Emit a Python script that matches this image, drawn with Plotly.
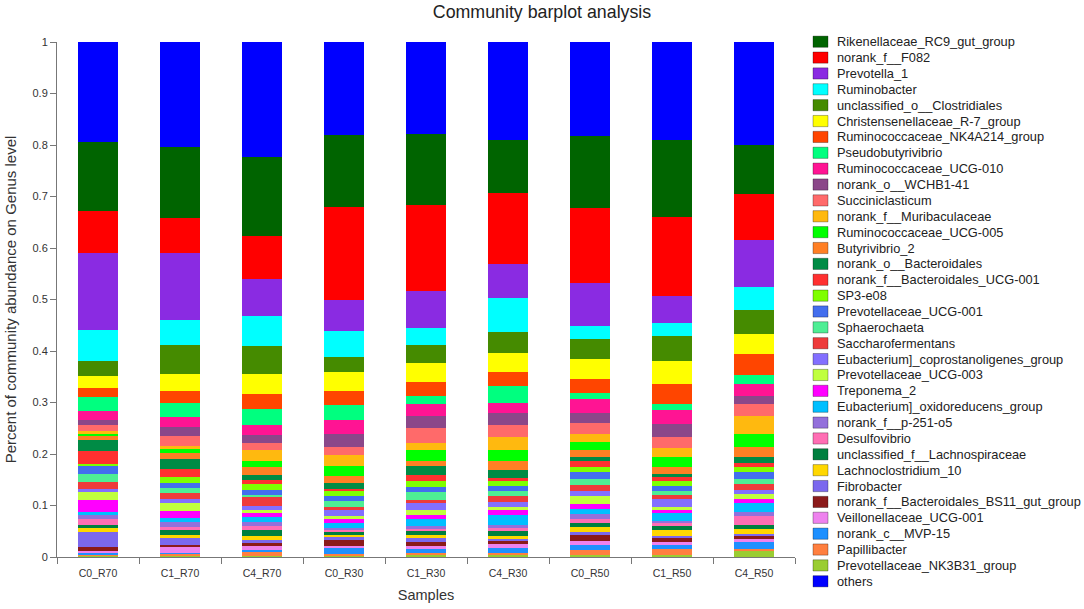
import plotly.graph_objects as go

# Samples (x axis)
samples = ["C0_R70", "C1_R70", "C4_R70", "C0_R30", "C1_R30", "C4_R30",
           "C0_R50", "C1_R50", "C4_R50"]

# Relative abundance per genus, one value per sample (same order as samples)
others = [0.194, 0.203, 0.224, 0.181, 0.179, 0.190, 0.183, 0.190, 0.200]
rikenellaceae_rc9 = [0.135, 0.139, 0.153, 0.140, 0.138, 0.103, 0.140, 0.150, 0.095]
norank_f082 = [0.081, 0.067, 0.083, 0.180, 0.167, 0.139, 0.144, 0.153, 0.090]
prevotella_1 = [0.150, 0.131, 0.072, 0.060, 0.072, 0.066, 0.085, 0.052, 0.091]
ruminobacter = [0.060, 0.049, 0.058, 0.051, 0.033, 0.066, 0.024, 0.026, 0.045]
unclass_clostridiales = [0.029, 0.056, 0.055, 0.029, 0.035, 0.039, 0.040, 0.049, 0.046]
christensenellaceae = [0.023, 0.033, 0.039, 0.037, 0.037, 0.038, 0.038, 0.045, 0.039]
rumino_nk4a214 = [0.018, 0.022, 0.029, 0.027, 0.026, 0.026, 0.028, 0.038, 0.041]
pseudobutyrivibrio = [0.026, 0.029, 0.031, 0.029, 0.016, 0.033, 0.012, 0.012, 0.018]
rumino_ucg010 = [0.018, 0.019, 0.019, 0.028, 0.024, 0.021, 0.026, 0.027, 0.022]
norank_wchb1 = [0.009, 0.018, 0.016, 0.024, 0.023, 0.023, 0.019, 0.025, 0.016]
succiniclasticum = [0.012, 0.019, 0.014, 0.016, 0.028, 0.023, 0.022, 0.022, 0.024]
norank_muribaculaceae = [0.006, 0.005, 0.020, 0.021, 0.015, 0.026, 0.015, 0.017, 0.034]
rumino_ucg005 = [0.004, 0.009, 0.013, 0.020, 0.020, 0.021, 0.017, 0.019, 0.026]
butyrivibrio_2 = [0.008, 0.011, 0.014, 0.013, 0.011, 0.017, 0.012, 0.014, 0.019]
norank_o_bacteroidales = [0.022, 0.019, 0.011, 0.011, 0.016, 0.016, 0.008, 0.005, 0.012]
norank_bact_ucg001 = [0.025, 0.015, 0.007, 0.005, 0.013, 0.006, 0.012, 0.008, 0.007]
sp3_e08 = [0.004, 0.012, 0.011, 0.010, 0.012, 0.009, 0.010, 0.011, 0.010]
prevotellaceae_ucg001 = [0.015, 0.010, 0.010, 0.009, 0.009, 0.009, 0.014, 0.008, 0.014]
sphaerochaeta = [0.016, 0.010, 0.004, 0.011, 0.015, 0.011, 0.012, 0.008, 0.010]
saccharofermentans = [0.013, 0.011, 0.017, 0.007, 0.007, 0.012, 0.010, 0.008, 0.010]
eub_coprostanoligenes = [0.005, 0.009, 0.008, 0.011, 0.012, 0.009, 0.011, 0.015, 0.009]
prevotellaceae_ucg003 = [0.017, 0.014, 0.006, 0.006, 0.010, 0.005, 0.016, 0.007, 0.009]
treponema_2 = [0.023, 0.015, 0.009, 0.007, 0.008, 0.010, 0.008, 0.005, 0.009]
eub_oxidoreducens = [0.005, 0.007, 0.009, 0.011, 0.013, 0.020, 0.011, 0.016, 0.017]
norank_p251 = [0.009, 0.010, 0.008, 0.004, 0.006, 0.005, 0.009, 0.004, 0.008]
desulfovibrio = [0.010, 0.006, 0.008, 0.004, 0.004, 0.006, 0.007, 0.006, 0.017]
unclass_lachnospiraceae = [0.007, 0.009, 0.012, 0.006, 0.009, 0.011, 0.009, 0.008, 0.007]
lachnoclostridium_10 = [0.007, 0.006, 0.007, 0.004, 0.006, 0.005, 0.009, 0.012, 0.010]
fibrobacter = [0.029, 0.014, 0.006, 0.005, 0.006, 0.002, 0.006, 0.002, 0.003]
norank_bs11 = [0.009, 0.004, 0.005, 0.011, 0.008, 0.008, 0.012, 0.009, 0.007]
veillonellaceae = [0.004, 0.011, 0.009, 0.005, 0.007, 0.007, 0.007, 0.005, 0.006]
norank_mvp15 = [0.002, 0.002, 0.002, 0.012, 0.007, 0.011, 0.011, 0.009, 0.013]
papillibacter = [0.003, 0.004, 0.009, 0.004, 0.005, 0.004, 0.009, 0.011, 0.005]
prevotellaceae_nk3b31 = [0.002, 0.002, 0.002, 0.001, 0.003, 0.003, 0.004, 0.004, 0.011]

# legend order (top to bottom): name, values, colour
genera = [
    ("Rikenellaceae_RC9_gut_group", rikenellaceae_rc9, "#006400"),
    ("norank_f__F082", norank_f082, "#FF0000"),
    ("Prevotella_1", prevotella_1, "#8A2BE2"),
    ("Ruminobacter", ruminobacter, "#00FFFF"),
    ("unclassified_o__Clostridiales", unclass_clostridiales, "#458B00"),
    ("Christensenellaceae_R-7_group", christensenellaceae, "#FFFF00"),
    ("Ruminococcaceae_NK4A214_group", rumino_nk4a214, "#FF4500"),
    ("Pseudobutyrivibrio", pseudobutyrivibrio, "#00FF7F"),
    ("Ruminococcaceae_UCG-010", rumino_ucg010, "#FF1493"),
    ("norank_o__WCHB1-41", norank_wchb1, "#8B4789"),
    ("Succiniclasticum", succiniclasticum, "#FF6A6A"),
    ("norank_f__Muribaculaceae", norank_muribaculaceae, "#FFB90F"),
    ("Ruminococcaceae_UCG-005", rumino_ucg005, "#00FF00"),
    ("Butyrivibrio_2", butyrivibrio_2, "#FF7F24"),
    ("norank_o__Bacteroidales", norank_o_bacteroidales, "#008B45"),
    ("norank_f__Bacteroidales_UCG-001", norank_bact_ucg001, "#FF3030"),
    ("SP3-e08", sp3_e08, "#7FFF00"),
    ("Prevotellaceae_UCG-001", prevotellaceae_ucg001, "#436EEE"),
    ("Sphaerochaeta", sphaerochaeta, "#4EEE94"),
    ("Saccharofermentans", saccharofermentans, "#EE3B3B"),
    ("Eubacterium]_coprostanoligenes_group", eub_coprostanoligenes, "#836FFF"),
    ("Prevotellaceae_UCG-003", prevotellaceae_ucg003, "#C0FF3E"),
    ("Treponema_2", treponema_2, "#FF00FF"),
    ("Eubacterium]_oxidoreducens_group", eub_oxidoreducens, "#00BFFF"),
    ("norank_f__p-251-o5", norank_p251, "#9370DB"),
    ("Desulfovibrio", desulfovibrio, "#FF6EB4"),
    ("unclassified_f__Lachnospiraceae", unclass_lachnospiraceae, "#007F3F"),
    ("Lachnoclostridium_10", lachnoclostridium_10, "#FFD700"),
    ("Fibrobacter", fibrobacter, "#7B68EE"),
    ("norank_f__Bacteroidales_BS11_gut_group", norank_bs11, "#8B1A1A"),
    ("Veillonellaceae_UCG-001", veillonellaceae, "#EE82EE"),
    ("norank_c__MVP-15", norank_mvp15, "#1E90FF"),
    ("Papillibacter", papillibacter, "#FF7F3F"),
    ("Prevotellaceae_NK3B31_group", prevotellaceae_nk3b31, "#9ACD32"),
    ("others", others, "#0000FF"),
]

W, H = 1084, 609
L, R, T, B = 57, 795, 42, 557

fig = go.Figure()

# stack from the bottom: last genus first, "others" on top
stack = list(reversed(genera[:-1])) + [genera[-1]]
for name, vals, col in stack:
    fig.add_trace(go.Bar(
        x=samples, y=vals, name=name,
        marker=dict(color=col, line=dict(width=0)),
        showlegend=False,
        hovertemplate="%{x}<br>" + name + ": %{y:.3f}<extra></extra>",
    ))

# hand-drawn legend (plotly's own legend rows are too tall for 35 entries);
# everything is placed in pixels from the top-right corner of the plot area
shapes = []
annotations = []
row0, step = 41.7, 15.87
for i, (name, vals, col) in enumerate(genera):
    dy = T - (row0 + i * step)          # pixel offset from the plot top (up = +)
    shapes.append(dict(
        type="rect", xref="paper", yref="paper",
        xsizemode="pixel", xanchor=1, x0=813 - R, x1=828 - R,
        ysizemode="pixel", yanchor=1, y0=dy - 5.6, y1=dy + 5.6,
        fillcolor=col, line=dict(color="rgba(0,0,0,0.3)", width=1),
    ))
    annotations.append(dict(
        text=name, xref="paper", yref="paper",
        x=1, y=1, xshift=835 - R, yshift=dy,
        xanchor="left", yanchor="middle",
        showarrow=False, font=dict(size=12.8, color="#222"),
    ))

fig.update_layout(
    width=W, height=H,
    margin=dict(l=L, r=W - R, t=T, b=H - B),
    barmode="stack",
    bargap=0.512,
    paper_bgcolor="white",
    plot_bgcolor="white",
    font=dict(family="Liberation Sans, Arial, sans-serif", color="#333"),
    title=dict(text="Community barplot analysis", x=0.5, xref="container",
               y=1 - 12 / H, yref="container", yanchor="middle",
               font=dict(size=17.8, color="#222")),
    xaxis=dict(
        type="category", showline=True, linecolor="#777", linewidth=1,
        ticks="outside", tickson="boundaries", ticklen=6, tickcolor="#777",
        ticklabelstandoff=6, automargin=False,
        tickfont=dict(size=10.5, color="#333"), showgrid=False,
        title=dict(text="Samples", font=dict(size=14.5, color="#333"), standoff=12),
    ),
    yaxis=dict(
        range=[0, 1], dtick=0.1, showline=True, linecolor="#777", linewidth=1,
        ticks="outside", ticklen=6, tickcolor="#777", showgrid=False, zeroline=False,
        automargin=False,
        tickfont=dict(size=11, color="#333"),
        title=dict(text="Percent of community abundance on Genus level",
                   font=dict(size=15, color="#333"), standoff=12),
    ),
    shapes=shapes,
    annotations=annotations,
)

# the page's default body margin would push the 1084x609 figure off the window
fig.write_html("out.html",
               config={"displayModeBar": False},
               post_script="document.body.style.margin='0';"
                           "document.body.style.overflow='hidden';")
